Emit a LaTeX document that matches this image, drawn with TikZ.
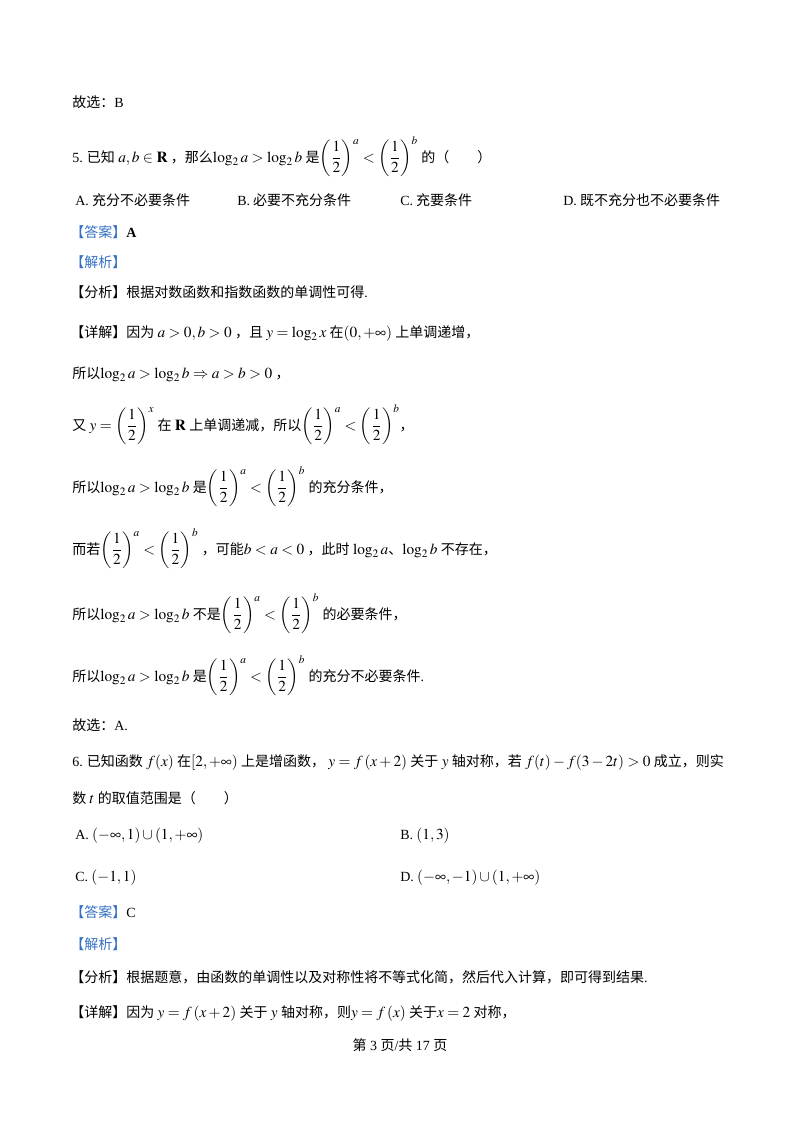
\documentclass[tikz,border=0pt]{standalone}
\usepackage{amsmath,amssymb}
\usepackage{mathptmx}
\usepackage{fontspec}
\setmainfont[Scale=0.913]{Noto Sans CJK SC}
\newfontfamily\lat[Scale=0.913]{Liberation Serif}
\usepackage{tikz}
\definecolor{tagblue}{RGB}{52,112,196}
\newcommand{\half}{\left(\dfrac{1}{2}\right)}
\newcommand{\gp}{\hspace{2.5pt}}

\begin{document}
\begin{tikzpicture}[x=0.75pt,y=-0.75pt]
\tikzset{txt/.style={anchor=base west,inner sep=0pt,font=\fontsize{11.5}{14}\selectfont},
  tag/.style={text=tagblue}}
\useasboundingbox (0,0) rectangle (800,1132);
% question 5
\node[txt] (sel4) at (72,107) {故选：{\lat B}};
\node[txt] (q5) at (72,162) {{\lat 5.} 已知\gp$a,b\in\mathbf{R}$\gp，那么$\log_2a>\log_2b$\gp 是$\half^{a}<\half^{b}$\gp 的（\quad\quad）};
\node[txt] (q5a) at (75,205) {{\lat A.} 充分不必要条件};
\node[txt] (q5b) at (237,205) {{\lat B.} 必要不充分条件};
\node[txt] (q5c) at (400,205) {{\lat C.} 充要条件};
\node[txt] (q5d) at (563,205) {{\lat D.} 既不充分也不必要条件};
\node[txt] (ans5) at (70,237) {{\color{tagblue}【答案】}{\lat\bfseries A}};
\node[txt,tag] (jx5) at (70,267) {【解析】};
\node[txt] (fx5) at (70,297) {【分析】根据对数函数和指数函数的单调性可得{\lat .}};
\node[txt] (xj5) at (70,337) {【详解】因为\gp$a>0,b>0$\gp，且\gp$y=\log_2x$\gp 在$\left(0,+\infty\right)$\gp 上单调递增，};
\node[txt] (s1) at (72,378) {所以$\log_2a>\log_2b\Rightarrow a>b>0$\gp，};
\node[txt] (s2) at (72,430) {又\gp$y=\half^{x}$\gp 在\gp$\mathbf{R}$\gp 上单调递减，所以$\half^{a}<\half^{b}$，};
\node[txt] (s3) at (72,492) {所以$\log_2a>\log_2b$\gp 是$\half^{a}<\half^{b}$\gp 的充分条件，};
\node[txt] (s4) at (72,554) {而若$\half^{a}<\half^{b}$\gp，可能$b<a<0$\gp，此时\gp$\log_2a$、$\log_2b$\gp 不存在，};
\node[txt] (s5) at (72,619) {所以$\log_2a>\log_2b$\gp 不是$\half^{a}<\half^{b}$\gp 的必要条件，};
\node[txt] (s6) at (72,681) {所以$\log_2a>\log_2b$\gp 是$\half^{a}<\half^{b}$\gp 的充分不必要条件{\lat .}};
\node[txt] (sel5) at (72,730) {故选：{\lat A.}};
% question 6
\node[txt] (q6) at (72,766) {{\lat 6.} 已知函数\gp$f(x)$\gp 在$\left[2,+\infty\right)$\gp 上是增函数，\gp$y=f\left(x+2\right)$\gp 关于\gp$y$\gp 轴对称，若\gp$f(t)-f(3-2t)>0$\gp 成立，则实};
\node[txt] (q6b) at (72,803) {数\gp$t$\gp 的取值范围是（\quad\quad）};
\node[txt] (q6a) at (75,839) {{\lat A.}\gp $\left(-\infty,1\right)\cup\left(1,+\infty\right)$};
\node[txt] (q6bb) at (400,839) {{\lat B.}\gp $\left(1,3\right)$};
\node[txt] (q6c) at (75,881) {{\lat C.}\gp $\left(-1,1\right)$};
\node[txt] (q6d) at (400,881) {{\lat D.}\gp $\left(-\infty,-1\right)\cup\left(1,+\infty\right)$};
\node[txt] (ans6) at (70,917) {{\color{tagblue}【答案】}{\lat C}};
\node[txt,tag] (jx6) at (70,949) {【解析】};
\node[txt] (fx6) at (70,982) {【分析】根据题意，由函数的单调性以及对称性将不等式化简，然后代入计算，即可得到结果{\lat .}};
\node[txt] (xj6) at (70,1017) {【详解】因为\gp$y=f\left(x+2\right)$\gp 关于\gp$y$\gp 轴对称，则$y=f\left(x\right)$\gp 关于$x=2$\gp 对称，};
% footer
\node[txt,anchor=base] (page) at (400,1050) {第{\lat\ 3 }页{\lat /}共{\lat\ 17 }页};
\end{tikzpicture}
\end{document}
